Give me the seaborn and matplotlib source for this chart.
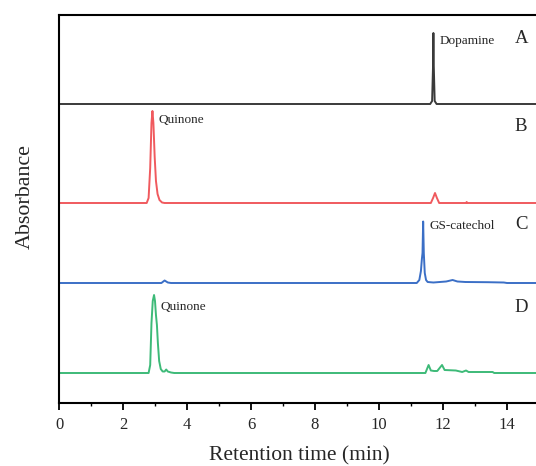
import pandas as pd
import matplotlib.pyplot as plt
import seaborn as sns
from matplotlib.ticker import MultipleLocator

# retention time (min) / relative absorbance points
time_a = [0, 11.60, 11.66, 11.69, 11.70, 11.71, 11.74, 11.80, 15]
abs_a = [0, 0, 3, 40, 71, 40, 3, 0, 0]

time_b = [0, 2.74, 2.80, 2.85, 2.89, 2.92, 2.95, 2.99, 3.03, 3.08, 3.14,
          3.22, 3.30, 11.62, 11.69, 11.75, 11.81, 11.88, 12.72, 12.74,
          12.76, 15]
abs_b = [0, 0, 5, 35, 80, 92, 80, 46, 22, 9, 3,
         0.5, 0, 0, 5, 10, 5, 0, 0, 1, 0, 0]

time_c = [0, 3.20, 3.30, 3.40, 3.50, 11.18, 11.26, 11.31, 11.34, 11.36,
          11.38, 11.40, 11.43, 11.47, 11.52, 11.70, 11.90, 12.10, 12.30,
          12.45, 12.70, 13.40, 13.90, 14.0, 15]
abs_c = [0, 0, 2.5, 0.5, 0, 0, 3, 12, 24, 30,
         61.5, 30, 10, 3, 1, 0.5, 1, 1.5, 3,
         1.5, 1, 0.8, 0.5, 0, 0]

time_d = [0, 2.80, 2.85, 2.89, 2.93, 2.97, 3.00, 3.03, 3.06, 3.09, 3.13,
          3.18, 3.24, 3.30, 3.35, 3.40, 3.50, 3.60, 11.45, 11.55, 11.62,
          11.72, 11.82, 11.97, 12.05, 12.40, 12.60, 12.72, 12.80, 13.55,
          13.60, 15]
abs_d = [0, 0, 8, 50, 72, 78, 72, 58, 48, 30, 12,
         4, 1.5, 1.5, 3.5, 1.5, 0.5, 0, 0, 8, 2.5,
         2, 2, 8, 3, 2.5, 1, 2.5, 1, 1,
         0, 0]

trace_names = ['A', 'B', 'C', 'D']
peak_labels = ['Dopamine', 'Quinone', 'GS-catechol', 'Quinone']
peak_times = [11.70, 2.92, 11.38, 2.97]
colors = ['#3a3a3a', '#f05a5e', '#3b6fc6', '#3dba78']
offsets = [299, 200, 120, 30]
letter_y = [365, 277, 179, 96]
label_y = [362, 283.5, 176.6, 96.2]

sns.set_theme(style='ticks')
plt.rcParams['font.family'] = ['Liberation Serif', 'DejaVu Serif']

fig = plt.figure(figsize=(5.36, 4.66), dpi=100)
ax = fig.add_axes([59 / 536, 63 / 466, 480 / 536, 388 / 466])

traces = [(time_a, abs_a), (time_b, abs_b), (time_c, abs_c), (time_d, abs_d)]
for (t, a), off, col in zip(traces, offsets, colors):
    df = pd.DataFrame({'time': t, 'absorbance': [v + off for v in a]})
    sns.lineplot(data=df, x='time', y='absorbance', ax=ax, color=col,
                 linewidth=1.4, sort=False)

for name, lab, pt, ly, yl in zip(trace_names, peak_labels, peak_times,
                                  label_y, letter_y):
    ax.text(pt + 0.2, ly, lab, fontsize=9.5, va='center', ha='left')
    ax.text(14.44, yl, name, fontsize=13.5, ha='center', va='center')

ax.set_xlim(0, 15)
ax.set_ylim(0, 388)
ax.xaxis.set_major_locator(MultipleLocator(2))
ax.xaxis.set_minor_locator(MultipleLocator(1))
ax.set_yticks([])
ax.tick_params(axis='x', which='major', length=5, width=1.3, labelsize=12,
               direction='out', color='black', pad=5)
ax.tick_params(axis='x', which='minor', length=2.5, width=1.0, direction='out',
               color='black')
for sp in ax.spines.values():
    sp.set_linewidth(1.5)
    sp.set_color('black')
ax.set_xlabel('Retention time (min)', fontsize=15.5)
ax.xaxis.set_label_coords(0.5, -0.111)
ax.set_ylabel('Absorbance', fontsize=15.8)
ax.yaxis.set_label_coords(-0.05, 0.532)

fig.savefig('out.png', dpi=100)
